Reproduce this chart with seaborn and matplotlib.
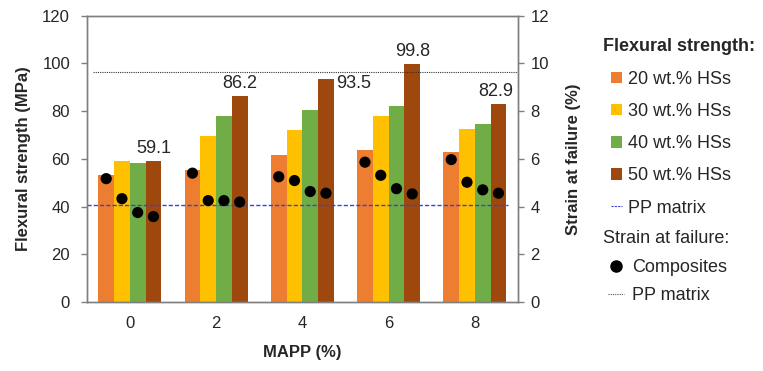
"""Flexural strength and strain at failure vs MAPP content."""

import matplotlib
matplotlib.use("Agg")
import matplotlib.pyplot as plt
from matplotlib.lines import Line2D
from matplotlib.patches import Patch
import numpy as np
import pandas as pd
import seaborn as sns


MAPP = ["0", "2", "4", "6", "8"]
HS_LEVELS = ["20 wt.% HSs", "30 wt.% HSs", "40 wt.% HSs", "50 wt.% HSs"]

# flexural strength (MPa), one list per HS content
FLEX_20 = [53.4, 55.3, 61.5, 63.6, 62.8]
FLEX_30 = [59.0, 69.6, 72.1, 77.9, 72.3]
FLEX_40 = [58.4, 78.1, 80.4, 82.2, 74.6]
FLEX_50 = [59.1, 86.2, 93.5, 99.8, 82.9]

# strain at failure (%), one list per HS content
STRAIN_20 = [5.17, 5.40, 5.25, 5.86, 5.97]
STRAIN_30 = [4.33, 4.25, 5.09, 5.31, 5.02]
STRAIN_40 = [3.75, 4.25, 4.63, 4.75, 4.70]
STRAIN_50 = [3.58, 4.19, 4.56, 4.53, 4.56]

PP_FLEX = 40.7
PP_STRAIN = 9.63

COLORS = ["#ED7D31", "#FFC000", "#70AD47", "#9E480E"]
SPINE = "#7F7F7F"
BLUE = "#3344DD"


def build_frame():
    return pd.DataFrame({
        "MAPP": MAPP * 4,
        "HS": np.repeat(HS_LEVELS, len(MAPP)),
        "flex": FLEX_20 + FLEX_30 + FLEX_40 + FLEX_50,
        "strain": STRAIN_20 + STRAIN_30 + STRAIN_40 + STRAIN_50,
    })


def main():
    sns.set_style("white")
    plt.rcParams["font.family"] = ["Liberation Sans", "DejaVu Sans"]
    plt.rcParams["font.size"] = 12

    df = build_frame()

    fig = plt.figure(figsize=(7.63, 3.71), dpi=100)
    ax = fig.add_axes([0.1136, 0.186, 0.5653, 0.7717])

    sns.barplot(data=df, x="MAPP", y="flex", hue="HS", order=MAPP, hue_order=HS_LEVELS,
                palette=COLORS, width=0.73, saturation=1, gap=0, linewidth=0,
                edgecolor="none", ax=ax, legend=False)

    # bar centres, taken from the drawn bars, for the strain dots
    centres = []
    for cont in ax.containers:
        centres.extend([b.get_x() + b.get_width() / 2 for b in cont])
    df["xpos"] = centres

    ax.axhline(PP_FLEX, xmin=0, xmax=0.977, color=BLUE, ls=(0, (3, 1.5)), lw=1.0)

    ax2 = ax.twinx()
    sns.scatterplot(data=df, x="xpos", y="strain", color="black", s=65, edgecolor="none",
                    ax=ax2, legend=False, zorder=5)
    ax2.axhline(PP_STRAIN, xmin=0.015, xmax=1, color="#333333", ls=(0, (1, 1)), lw=0.8)

    ax.set_ylim(0, 120)
    ax.set_yticks(range(0, 121, 20))
    ax2.set_ylim(0, 12)
    ax2.set_yticks(range(0, 13, 2))
    ax.set_xlim(-0.5, 4.5)

    # value labels over the 50 wt.% bars
    brown = ax.containers[3]
    offsets = [(0, 3, "center", "bottom"), (0, 3, "center", "bottom"), (2, -3, "left", "center"),
               (0, 3, "center", "bottom"), (-2, 3, "center", "bottom")]
    for bar, val, (dx, dy, ha, va) in zip(brown, FLEX_50, offsets):
        x = bar.get_x() + bar.get_width() if ha == "left" else bar.get_x() + bar.get_width() / 2
        ax.annotate(f"{val:.1f}", (x, val), xytext=(dx, dy), textcoords="offset points",
                    ha=ha, va=va, fontsize=13)

    ax.set_xlabel("MAPP (%)", fontsize=12, fontweight="bold", labelpad=10)
    ax.set_ylabel("Flexural strength (MPa)", fontsize=12, fontweight="bold", labelpad=8)
    ax2.set_ylabel("Strain at failure (%)", fontsize=12, fontweight="bold", labelpad=12)
    ax2.set_xlabel("")

    for a in (ax, ax2):
        for sp in a.spines.values():
            sp.set_color(SPINE)
            sp.set_linewidth(1.0)
    ax.tick_params(axis="y", direction="out", length=4, width=1, color=SPINE, pad=8, labelsize=12)
    ax.tick_params(axis="x", length=0, pad=10, labelsize=12)
    ax2.tick_params(axis="y", direction="out", length=4, width=1, color=SPINE, pad=5, labelsize=12)

    # legend headers as plain text, legends below them
    fig.text(0.790, 0.876, "Flexural strength:", fontsize=13, fontweight="bold", va="center")
    fig.text(0.790, 0.358, "Strain at failure:", fontsize=13, va="center")

    flex_handles = [Patch(facecolor=c, edgecolor="none") for c in COLORS]
    flex_handles.append(Line2D([], [], color=BLUE, ls=(0, (2, 1)), lw=0.8))
    fig.legend(flex_handles, HS_LEVELS + ["PP matrix"], loc="upper left",
               bbox_to_anchor=(0.801, 0.809), frameon=False, fontsize=13,
               handlelength=0.6, handleheight=0.6, handletextpad=0.35, labelspacing=0.84,
               borderpad=0, borderaxespad=0)

    strain_handles = [
        Line2D([], [], marker="o", color="black", ls="none", markersize=8),
        Line2D([], [], color="#555555", ls=(0, (1, 1)), lw=0.8),
    ]
    fig.legend(strain_handles, ["Composites", "PP matrix"], loc="upper left",
               bbox_to_anchor=(0.797, 0.302), frameon=False, fontsize=13,
               handlelength=0.9, handletextpad=0.45, labelspacing=0.62,
               borderpad=0, borderaxespad=0)

    fig.savefig("out.png", dpi=100)


if __name__ == "__main__":
    main()
